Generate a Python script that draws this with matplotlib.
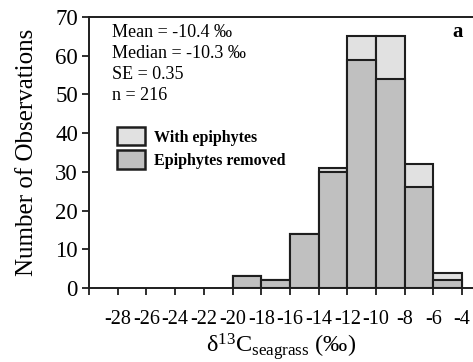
import numpy as np
import matplotlib.pyplot as plt
from matplotlib.patches import Patch

plt.rcParams.update({
    "font.family": ["Liberation Serif", "DejaVu Serif"],
    "mathtext.fontset": "custom",
    "mathtext.rm": "Liberation Serif",
    "mathtext.it": "Liberation Serif:italic",
    "axes.linewidth": 1.4,
})

# histogram bins (left edges, 2 per mille wide)
bin_left = [-20, -18, -16, -14, -12, -10, -8, -6]
with_epi = [3, 2, 14, 31, 65, 65, 32, 4]
epi_removed = [3, 2, 14, 30, 59, 54, 26, 2]

x_ticks = np.arange(-30, -3, 2)
x_labels = [""] + [str(t) for t in x_ticks[1:]]
y_ticks = np.arange(0, 71, 10)

stats_lines = ["Mean = -10.4 \u2030", "Median = -10.3 \u2030", "SE = 0.35", "n = 216"]

c_light = "#e1e1e1"
c_dark = "#c0c0c0"
edge = "#1e1e1e"

fig = plt.figure(figsize=(4.73, 3.62), dpi=100)
ax = fig.add_axes([89 / 473, 1 - 288 / 362, 1 - 89 / 473, (288 - 17) / 362])

ax.bar(bin_left, with_epi, width=2, align="edge", color=c_light,
       edgecolor=edge, linewidth=1.5, zorder=2)
ax.bar(bin_left, epi_removed, width=2, align="edge", color=c_dark,
       edgecolor=edge, linewidth=1.5, zorder=3)

ax.set_xlim(-30, -30 + 384 / 14.35)
ax.set_ylim(0, 70)
ax.set_xticks(x_ticks)
ax.set_xticklabels(x_labels)
ax.set_yticks(y_ticks)
ax.spines["right"].set_visible(False)
for s in ax.spines.values():
    s.set_color("#1e1e1e")
    s.set_zorder(4)
ax.tick_params(axis="x", direction="out", length=5, width=1.3, pad=11,
               labelsize=14.5, color="#1e1e1e")
ax.tick_params(axis="y", direction="out", length=5, width=1.3, pad=3,
               labelsize=16.5, color="#1e1e1e")

ax.set_ylabel("Number of Observations", fontsize=18, labelpad=12)
ax.set_xlabel("\u03b4$^{13}$C$_{\\mathrm{seagrass}}$ (\u2030)", fontsize=17.5, labelpad=1)

for i, line in enumerate(stats_lines):
    fig.text(112 / 473, 1 - (37 + 21 * i) / 362, line, fontsize=13,
             ha="left", va="baseline")
fig.text(458 / 473, 1 - 37 / 362, "a", fontsize=15, fontweight="bold",
         ha="center", va="baseline")

handles = [Patch(facecolor=c_light, edgecolor=edge, linewidth=1.8),
           Patch(facecolor=c_dark, edgecolor=edge, linewidth=1.8)]
ax.legend(handles, ["With epiphytes", "Epiphytes removed"], loc="upper left",
          bbox_to_anchor=(117 / 473, 1 - 127 / 362), bbox_transform=fig.transFigure,
          frameon=False, prop={"size": 11.5, "weight": "bold"},
          handlelength=1.75, handleheight=1.4,
          handletextpad=0.55, labelspacing=0.3, borderpad=0, borderaxespad=0)

fig.savefig("out.png", dpi=100)
